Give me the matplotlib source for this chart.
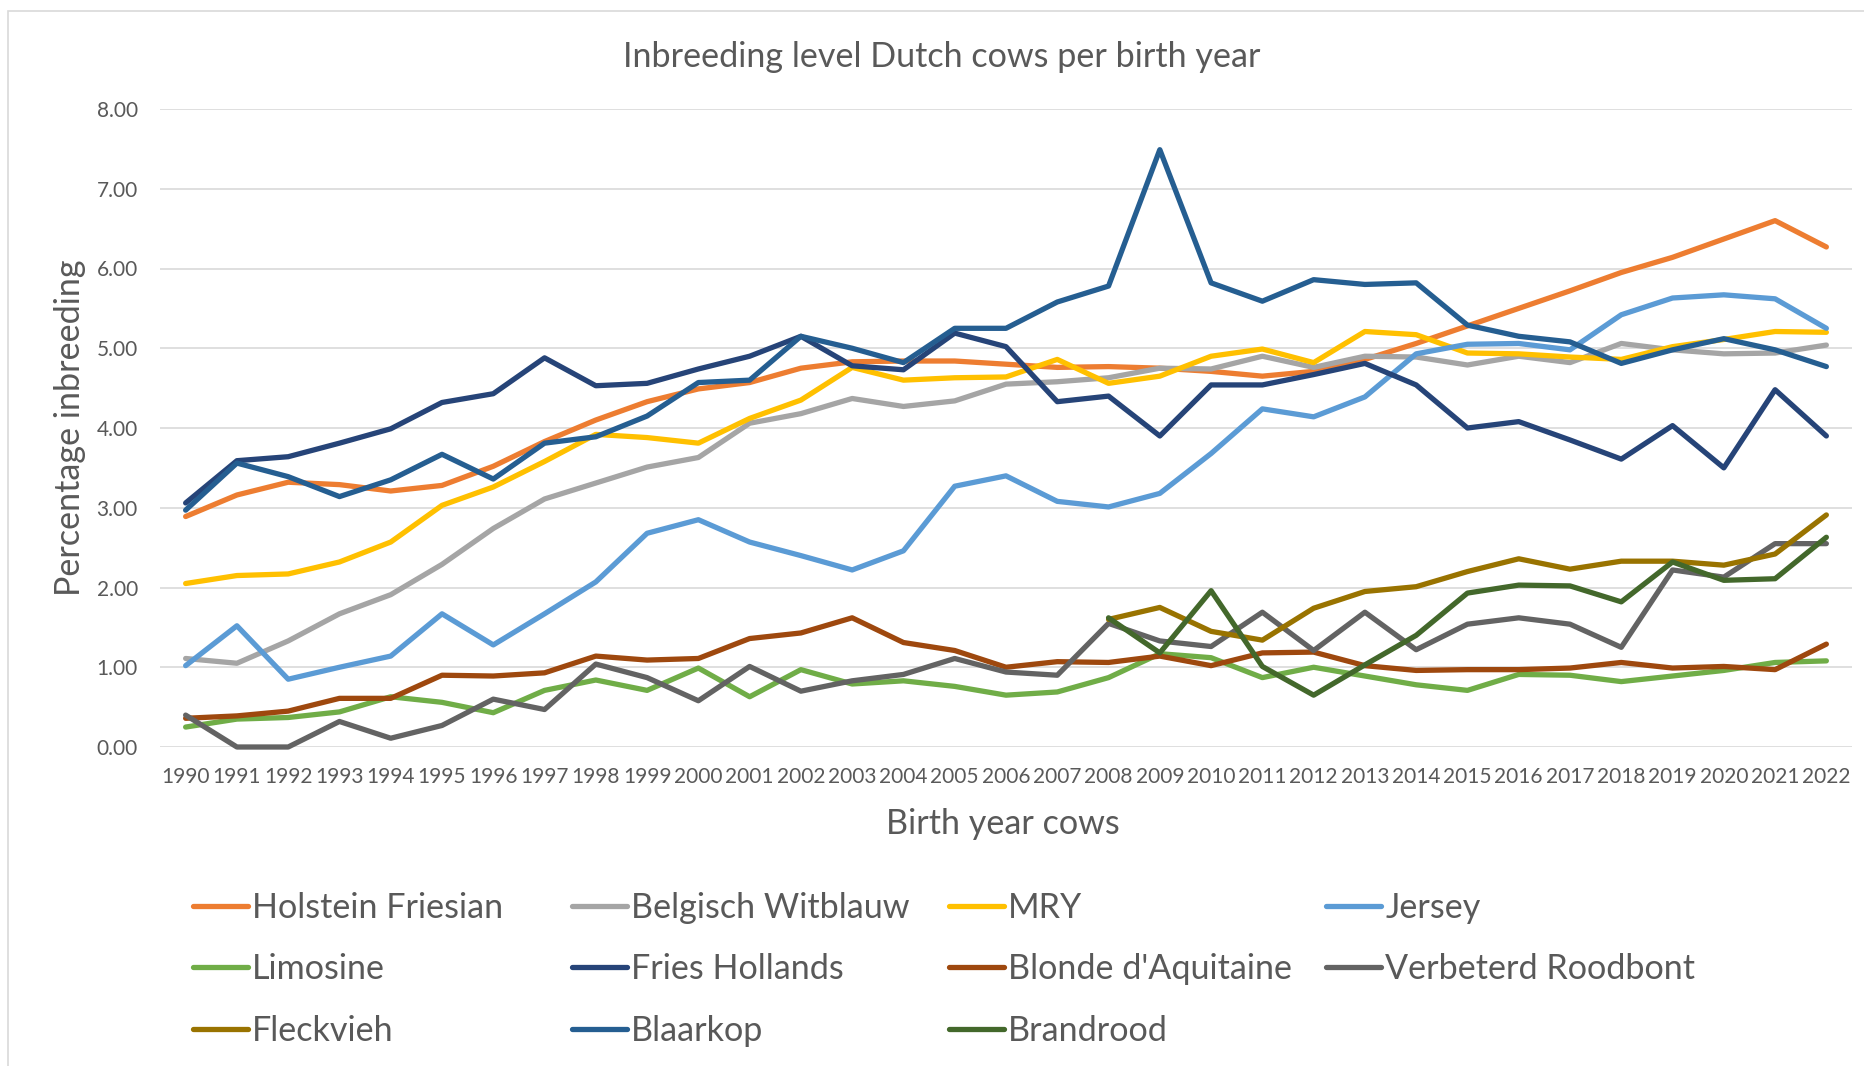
import numpy as np
import matplotlib.pyplot as plt
from matplotlib.patches import Rectangle

plt.rcParams['font.family'] = ['Lato', 'DejaVu Sans']

# Birth years (categories)
years = [str(y) for y in range(1990, 2023)]
gap = [np.nan] * 18  # no data before 2008

holstein = [2.89, 3.16, 3.32, 3.29, 3.21, 3.28, 3.52, 3.83, 4.10, 4.33, 4.49, 4.57, 4.75, 4.83, 4.84, 4.84, 4.80,
            4.76, 4.77, 4.75, 4.71, 4.65, 4.71, 4.86, 5.06, 5.28, 5.50, 5.72, 5.95, 6.14, 6.37, 6.60, 6.27]
belgisch = [1.11, 1.05, 1.33, 1.67, 1.91, 2.29, 2.74, 3.11, 3.31, 3.51, 3.63, 4.06, 4.18, 4.37, 4.27, 4.34, 4.55,
            4.58, 4.63, 4.75, 4.74, 4.90, 4.76, 4.90, 4.89, 4.79, 4.90, 4.82, 5.06, 4.98, 4.93, 4.94, 5.04]
mry = [2.05, 2.15, 2.17, 2.32, 2.57, 3.03, 3.26, 3.58, 3.92, 3.88, 3.81, 4.12, 4.35, 4.76, 4.60, 4.63, 4.64,
       4.86, 4.56, 4.65, 4.90, 4.99, 4.82, 5.21, 5.17, 4.94, 4.93, 4.89, 4.86, 5.02, 5.11, 5.21, 5.20]
jersey = [1.02, 1.52, 0.85, 1.00, 1.14, 1.67, 1.28, 1.67, 2.07, 2.68, 2.85, 2.57, 2.40, 2.22, 2.46, 3.27, 3.40,
          3.08, 3.01, 3.18, 3.68, 4.24, 4.14, 4.39, 4.93, 5.05, 5.06, 4.98, 5.42, 5.63, 5.67, 5.62, 5.25]
limosine = [0.25, 0.35, 0.37, 0.44, 0.63, 0.56, 0.43, 0.71, 0.84, 0.71, 0.99, 0.63, 0.97, 0.79, 0.83, 0.76, 0.65,
            0.69, 0.87, 1.17, 1.12, 0.87, 1.00, 0.89, 0.78, 0.71, 0.91, 0.90, 0.82, 0.89, 0.96, 1.06, 1.08]
fries = [3.06, 3.59, 3.64, 3.81, 3.99, 4.32, 4.43, 4.88, 4.53, 4.56, 4.74, 4.90, 5.15, 4.78, 4.73, 5.19, 5.02,
         4.33, 4.40, 3.90, 4.54, 4.54, 4.67, 4.81, 4.54, 4.00, 4.08, 3.85, 3.61, 4.03, 3.50, 4.48, 3.90]
blonde = [0.36, 0.39, 0.45, 0.61, 0.61, 0.90, 0.89, 0.93, 1.14, 1.09, 1.11, 1.36, 1.43, 1.62, 1.31, 1.21, 1.00,
          1.07, 1.06, 1.14, 1.02, 1.18, 1.19, 1.02, 0.96, 0.97, 0.97, 0.99, 1.06, 0.99, 1.01, 0.97, 1.29]
roodbont = [0.40, 0.00, 0.00, 0.32, 0.11, 0.27, 0.60, 0.47, 1.04, 0.87, 0.58, 1.01, 0.70, 0.83, 0.91, 1.11, 0.94,
            0.90, 1.55, 1.33, 1.26, 1.69, 1.21, 1.69, 1.22, 1.54, 1.62, 1.54, 1.25, 2.22, 2.13, 2.55, 2.55]
fleckvieh = gap + [1.60, 1.75, 1.45, 1.34, 1.74, 1.95, 2.01, 2.20, 2.36, 2.23, 2.33, 2.33, 2.28, 2.42, 2.91]
blaarkop = [2.97, 3.56, 3.39, 3.14, 3.35, 3.67, 3.36, 3.81, 3.89, 4.15, 4.57, 4.60, 5.15, 5.00, 4.82, 5.25, 5.25,
            5.58, 5.78, 7.49, 5.82, 5.59, 5.86, 5.80, 5.82, 5.29, 5.15, 5.08, 4.81, 4.98, 5.12, 4.98, 4.77]
brandrood = gap + [1.62, 1.18, 1.96, 1.01, 0.65, 1.03, 1.40, 1.93, 2.03, 2.02, 1.82, 2.32, 2.09, 2.11, 2.63]

names = ["Holstein Friesian", "Belgisch Witblauw", "MRY", "Jersey", "Limosine", "Fries Hollands",
         "Blonde d'Aquitaine", "Verbeterd Roodbont", "Fleckvieh", "Blaarkop", "Brandrood"]
series = [holstein, belgisch, mry, jersey, limosine, fries, blonde, roodbont, fleckvieh, blaarkop, brandrood]
colors = ["#ED7D31", "#A5A5A5", "#FFC000", "#5B9BD5", "#70AD47", "#264478",
          "#9E480E", "#636363", "#997300", "#255E91", "#43682B"]

txt = "#595959"
W, H = 1865, 1066
fig = plt.figure(figsize=(W / 100, H / 100), dpi=100)
ax = fig.add_axes([160 / W, 1 - 747 / H, 1692 / W, 638 / H])

x = np.arange(len(years))
handles = []
for name, vals, c in zip(names, series, colors):
    h, = ax.plot(x, vals, color=c, lw=3.8, label=name, clip_on=False,
                 solid_capstyle='round', solid_joinstyle='round')
    handles.append(h)

ax.set_xlim(-0.5, len(years) - 0.5)
ax.set_ylim(0, 8)
ax.set_xticks(x)
ax.set_xticklabels(years)
ax.set_yticks(np.arange(0, 9))
ax.set_yticklabels([f"{v:.2f}" for v in range(9)])
ax.tick_params(axis='x', length=0, pad=14.5, labelsize=15, labelcolor=txt)
ax.tick_params(axis='y', length=0, pad=16, labelsize=15, labelcolor=txt)
ax.grid(axis='y', color='#D9D9D9', lw=1.2)
ax.set_axisbelow(True)
for s in ax.spines.values():
    s.set_visible(False)

ax.set_ylabel("Percentage inbreeding", fontsize=24.6, color=txt)
ax.yaxis.set_label_coords(-0.044, 0.5)
ax.set_xlabel("Birth year cows", fontsize=24.6, color=txt)
ax.xaxis.set_label_coords(0.498, -0.095)

fig.text(942 / W, 1 - 57 / H, "Inbreeding level Dutch cows per birth year",
         fontsize=24.6, color=txt, ha='center', va='center')

# legend: four columns, three rows
col_x = [193, 572, 949, 1326]
for i, cx in enumerate(col_x):
    fig.legend(handles[i::4], names[i::4], loc='upper left',
               bbox_to_anchor=(cx / W, 1 - 892 / H), frameon=False,
               borderpad=0, borderaxespad=0, fontsize=24.6, labelcolor=txt,
               handlelength=1.6, handletextpad=0.13, labelspacing=0.86)

fig.add_artist(Rectangle((8 / W, -0.01), 1.02, 1 - 11 / H + 0.01, transform=fig.transFigure,
                         fill=False, edgecolor='#D9D9D9', lw=1.2))

fig.savefig("out.png", dpi=100)
